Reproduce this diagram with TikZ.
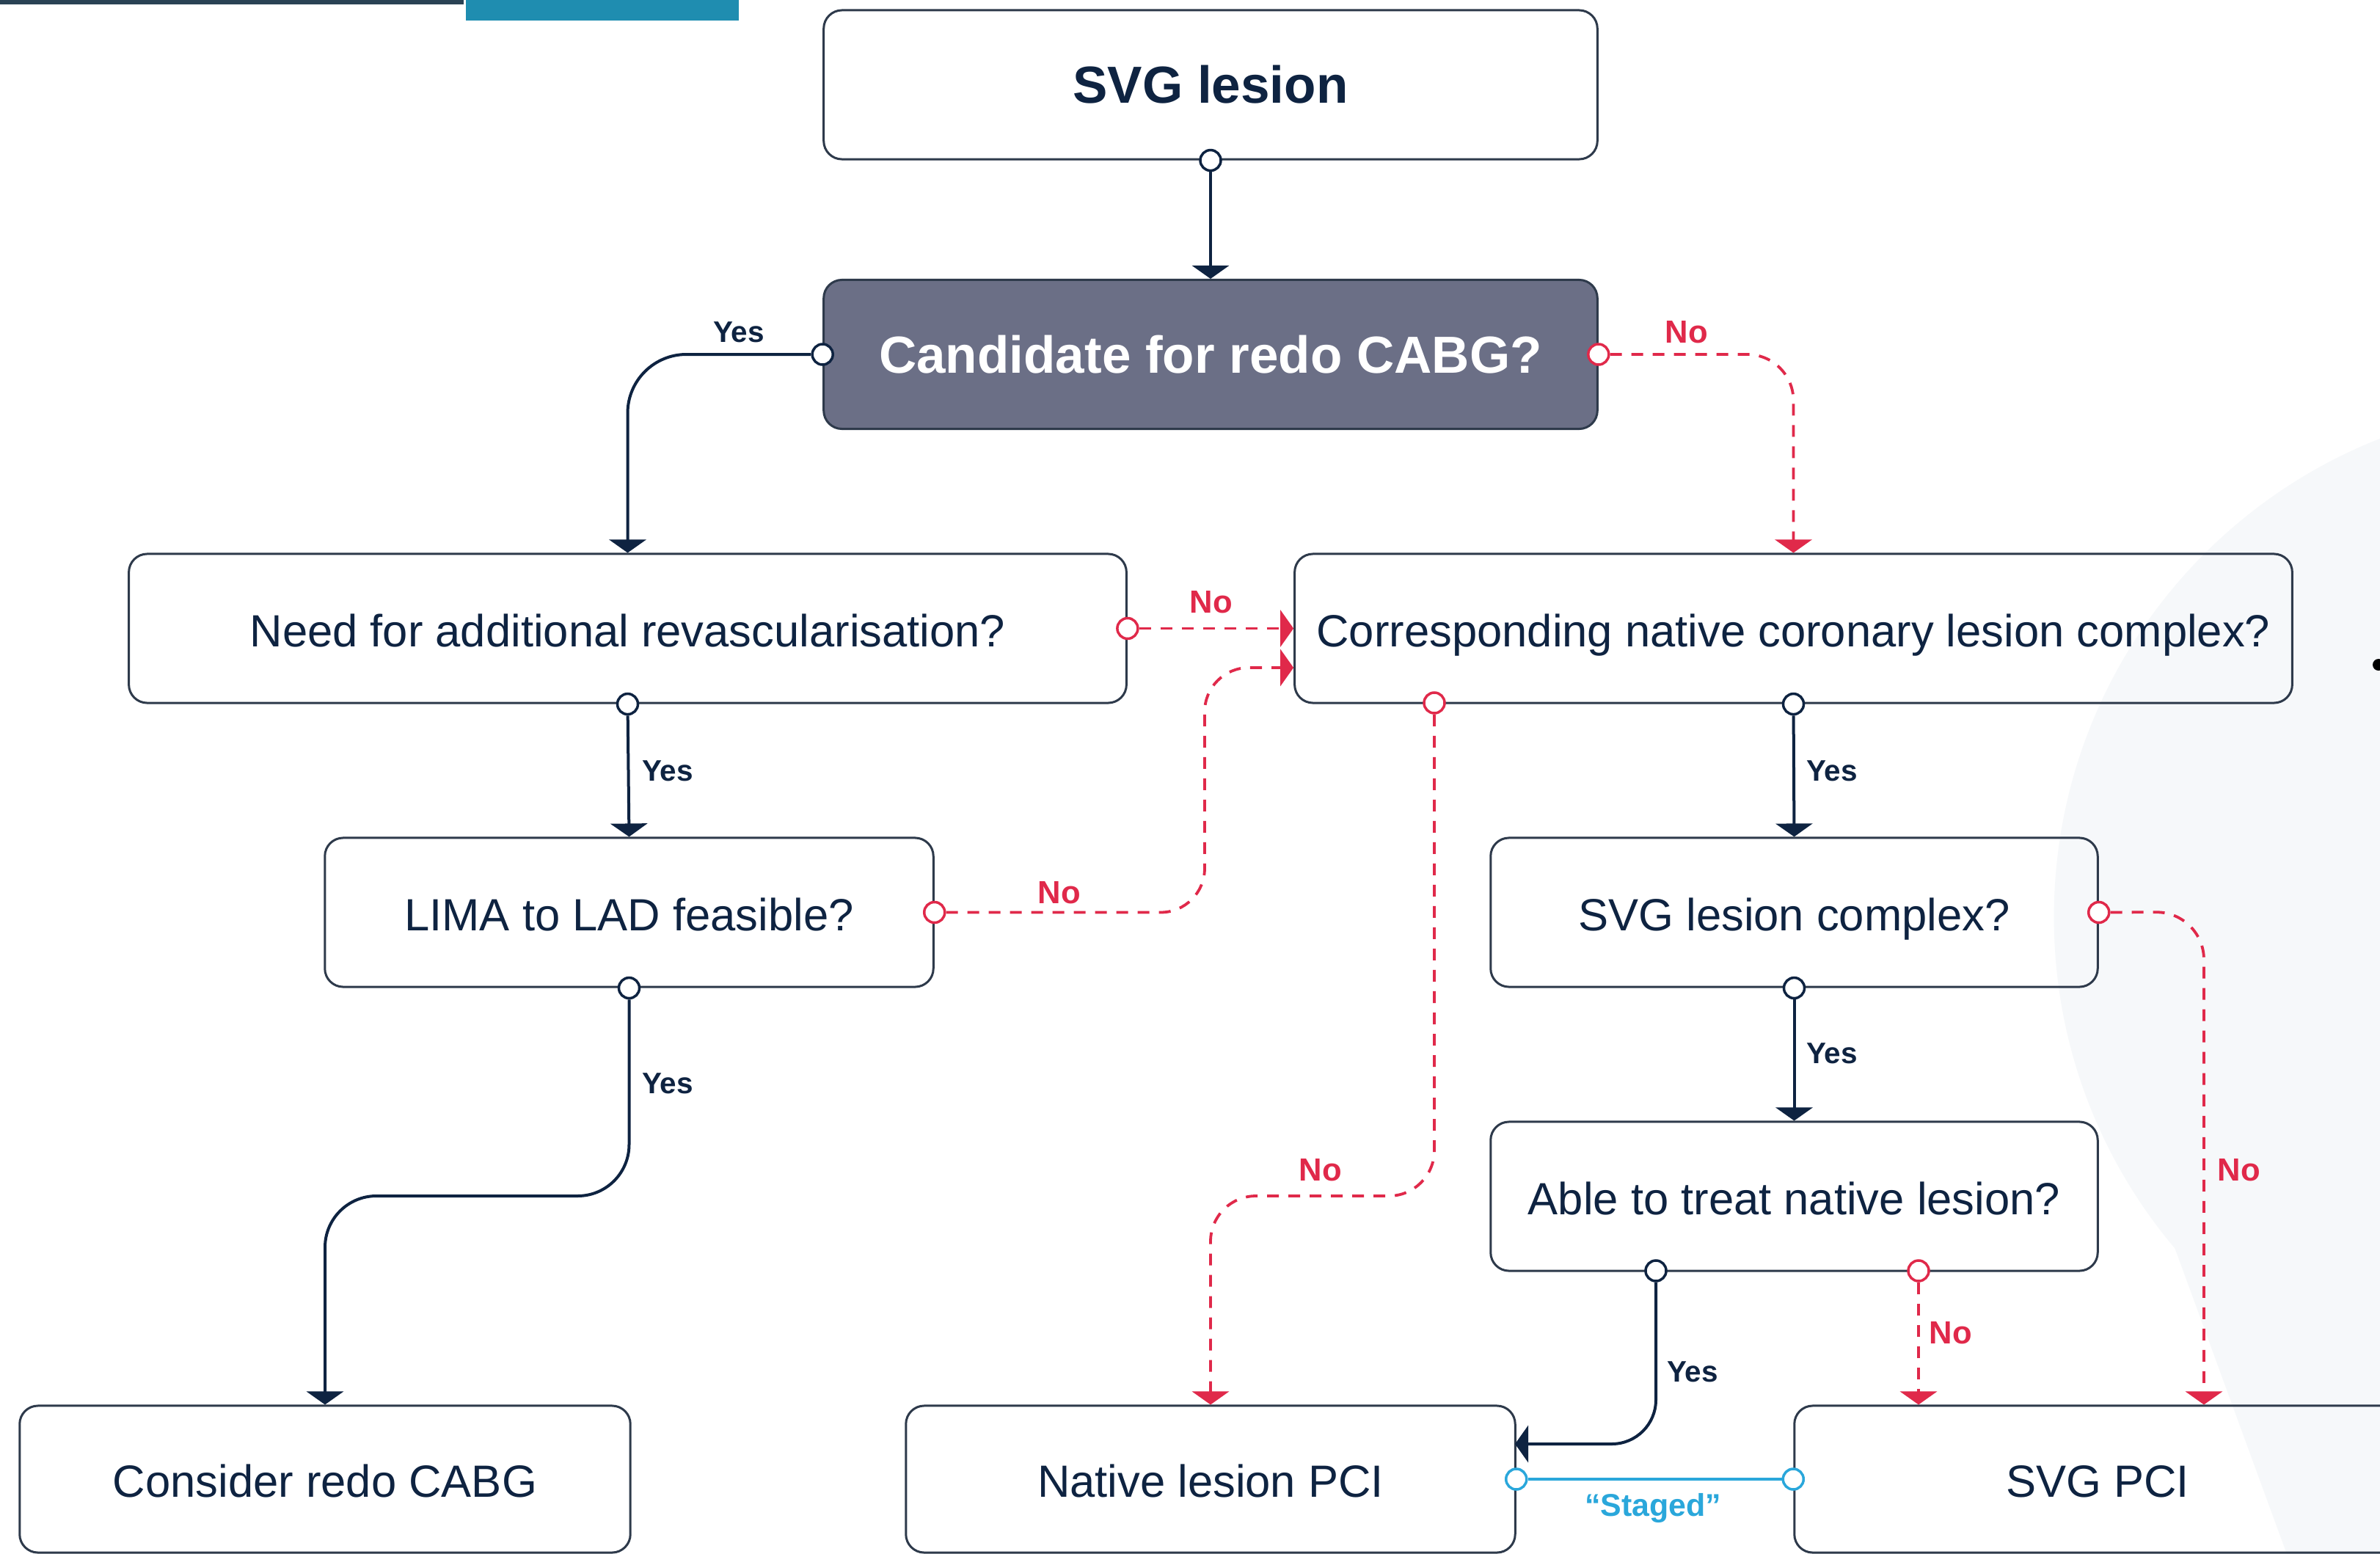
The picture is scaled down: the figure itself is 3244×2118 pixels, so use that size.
\documentclass[tikz,border=0pt]{standalone}
\usepackage{fontspec}
\setmainfont{Liberation Sans}
\usetikzlibrary{arrows.meta}
\definecolor{navy}{HTML}{0E2341}
\definecolor{boxc}{HTML}{2E3A4B}
\definecolor{candfill}{HTML}{6B6F86}
\definecolor{nored}{HTML}{E0294A}
\definecolor{stcyan}{HTML}{2AA7DB}
\definecolor{bggrey}{HTML}{F6F8FA}
\definecolor{topdark}{HTML}{2A4254}
\definecolor{topteal}{HTML}{1F8DB0}
\begin{document}
\begin{tikzpicture}[x=0.01cm,y=-0.01cm,
  box/.style={draw=boxc, line width=0.03cm, rounded corners=0.25cm,
    minimum height=2.03cm, text=navy, inner sep=0pt,
    font=\fontsize{17.5}{21}\selectfont},
  qbox/.style={box, text height=14.2pt, text depth=0pt},
  headbox/.style={box, font=\fontsize{20.2}{24}\selectfont\bfseries},
  ydot/.style={circle, draw=navy, fill=white, line width=0.035cm, inner sep=0pt, minimum size=0.28cm},
  rdot/.style={ydot, draw=nored},
  cdot/.style={ydot, draw=stcyan},
  yarr/.style={draw=navy, line width=0.04cm, -{Triangle[width=0.5cm,length=0.18cm]}},
  rarr/.style={draw=nored, line width=0.038cm, dash pattern=on 0.16cm off 0.13cm, -{Triangle[width=0.5cm,length=0.18cm]}},
  ylab/.style={text=navy, font=\fontsize{11.5}{14}\selectfont\bfseries, inner sep=0pt},
  nlab/.style={text=nored, font=\fontsize{12.4}{14}\selectfont\bfseries, inner sep=0pt},
  slab/.style={text=stcyan, font=\fontsize{12.2}{14}\selectfont\bfseries, inner sep=0pt}]
\useasboundingbox (0,0) rectangle (3244,2118);
\clip (0,0) rectangle (3244,2118);
\fill[white] (0,0) rectangle (3244,2118);
% faint background shapes
\fill[bggrey] (3500,1250) circle[radius=7cm];
\fill[bggrey] (2964,1700) -- (3244,1700) -- (3244,2118) -- (3117,2118) -- cycle;
\fill[topdark] (0,0) rectangle (632,6);
\fill[topteal] (635,0) rectangle (1007,28);
\fill[black] (3242,906) circle[radius=0.08cm];

% boxes
\node[headbox, minimum width=10.54cm] (svg) at (1650,115.5) {SVG lesion};
\node[headbox, minimum width=10.54cm, fill=candfill, text=white] (cand) at (1650,483) {Candidate for redo CABG?};
\node[qbox, minimum width=13.59cm] (need) at (855.5,856.5) {Need for additional revascularisation?};
\node[qbox, minimum width=13.59cm] (corr) at (2444.5,856.5) {Corresponding native coronary lesion complex?};
\node[qbox, minimum width=8.29cm] (lima) at (857.5,1243.5) {LIMA to LAD feasible?};
\node[qbox, minimum width=8.27cm] (cplx) at (2445.5,1243.5) {SVG lesion complex?};
\node[qbox, minimum width=8.27cm] (able) at (2445.5,1630.5) {Able to treat native lesion?};
\node[qbox, minimum width=8.32cm, minimum height=2.0cm] (cons) at (443,2016) {Consider redo CABG};
\node[qbox, minimum width=8.30cm, minimum height=2.0cm] (npci) at (1650,2016) {Native lesion PCI};
\node[qbox, minimum width=8.26cm, minimum height=2.0cm] (spci) at (2859,2016) {SVG PCI};

% connection dots
\node[ydot] (dsvg) at (svg.south) {};
\node[ydot] (dcw) at (cand.west) {};
\node[rdot] (dce) at (cand.east) {};
\node[rdot] (dne) at (need.east) {};
\node[ydot] (dns) at (need.south) {};
\node[rdot] (dle) at (lima.east) {};
\node[ydot] (dls) at (lima.south) {};
\node[rdot] (dcs) at (1955,958) {};
\node[ydot] (dcy) at (corr.south) {};
\node[ydot] (dxs) at (cplx.south) {};
\node[rdot] (dxe) at (cplx.east) {};
\node[ydot] (day) at (2257,1732) {};
\node[rdot] (dan) at (2615,1732) {};
\node[cdot] (dst1) at (npci.east) {};
\node[cdot] (dst2) at (spci.west) {};

% helper coordinates
\coordinate (c6) at (1642,910);
\coordinate (c7) at (857.5,1630);
\coordinate (c8) at (1955,1630);
\coordinate (c11) at (3004,1243);
\coordinate (c12) at (2065,1968);

% connectors
\draw[yarr] (dsvg) -- (cand.north);
\draw[yarr, rounded corners=0.8cm] (dcw) -| (need.north);
\draw[rarr, rounded corners=0.63cm] (dce) -| (corr.north);
\draw[rarr] (dne) -- (corr.west);
\draw[yarr] (dns) -- (lima.north);
\draw[rarr, rounded corners=0.6cm] (dle) -| (c6) -- (c6 -| corr.west);
\draw[yarr, rounded corners=0.7cm] (dls) -- (c7) -| (cons.north);
\draw[rarr, rounded corners=0.62cm] (dcs) -- (c8) -| (npci.north);
\draw[yarr] (dcy) -- (cplx.north);
\draw[yarr] (dxs) -- (able.north);
\draw[rarr, rounded corners=0.65cm] (dxe) -- (c11) -- (c11 |- spci.north);
\draw[yarr, rounded corners=0.6cm] (day) |- (c12);
\draw[rarr] (dan) -- (dan |- spci.north);
\draw[draw=stcyan, line width=0.04cm] (dst1) -- (dst2);

% labels
\node[ylab] (l1) at (1007,453) {Yes};
\node[nlab] (l2) at (2299,453) {No};
\node[nlab] (l3) at (1651,821) {No};
\node[ylab] (l4) at (910,1051) {Yes};
\node[nlab] (l5) at (1444,1217) {No};
\node[ylab] (l6) at (910,1477) {Yes};
\node[nlab] (l7) at (1800,1595) {No};
\node[ylab] (l8) at (2497,1051) {Yes};
\node[ylab] (l9) at (2497,1436) {Yes};
\node[nlab] (l10) at (3052,1595) {No};
\node[ylab] (l11) at (2307,1870) {Yes};
\node[nlab] (l12) at (2659,1817) {No};
\node[slab] (l13) at (2253,2055) {“Staged”};
\end{tikzpicture}
\end{document}
